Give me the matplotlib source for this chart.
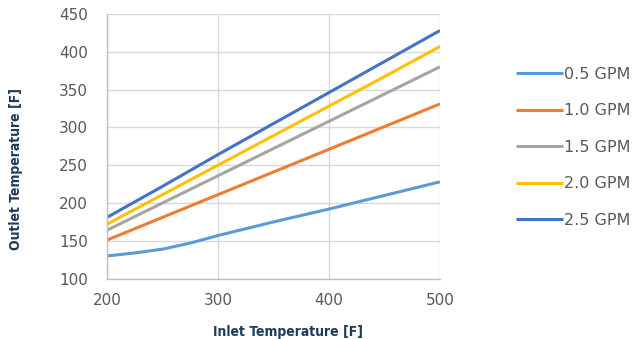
import matplotlib
matplotlib.use('Agg')
import matplotlib.pyplot as plt

# Outlet temperature vs inlet temperature for several flow rates
inlet = [200, 250, 300, 350, 400, 450, 500]
inlet_05 = [200, 225, 250, 275, 300, 350, 400, 450, 500]
outlet_05 = [130, 134, 139, 147, 157, 175, 192, 210, 228]
outlet_10 = [151, 181, 211, 241, 271, 301, 331]
outlet_15 = [164, 200, 236, 272, 308, 344, 380]
outlet_20 = [172, 211, 250, 289, 328, 367, 407]
outlet_25 = [181, 222, 264, 305, 346, 387, 428]
labels = ['0.5 GPM', '1.0 GPM', '1.5 GPM', '2.0 GPM', '2.5 GPM']
colors = ['#5B9BD5', '#ED7D31', '#A5A5A5', '#FFC000', '#4472C4']

fig = plt.figure(figsize=(6.33, 3.39), dpi=100)
ax = fig.add_axes([0.169, 0.178, 0.526, 0.781])

series = [(inlet_05, outlet_05), (inlet, outlet_10), (inlet, outlet_15),
          (inlet, outlet_20), (inlet, outlet_25)]
for (xs, ys), lab, c in zip(series, labels, colors):
    ax.plot(xs, ys, color=c, linewidth=2.2, label=lab, solid_capstyle='butt')

ax.set_xlim(200, 500)
ax.set_ylim(100, 450)
ax.set_xticks([200, 300, 400, 500])
ax.set_yticks(range(100, 451, 50))
ax.grid(True, color='#D9D9D9', linewidth=1)
ax.set_axisbelow(True)
for side in ['top', 'right']:
    ax.spines[side].set_visible(False)
for side in ['left', 'bottom']:
    ax.spines[side].set_color('#BFBFBF')
    ax.spines[side].set_linewidth(1)
ax.tick_params(length=0, labelsize=11, colors='#595959')
ax.tick_params(axis='y', pad=13.5)
ax.tick_params(axis='x', pad=10.5)

lab_font = dict(family='DejaVu Sans', stretch='condensed',
                weight='bold', size=10, color='#1F3B5A')
ax.set_xlabel('Inlet Temperature [F]', **lab_font)
ax.set_ylabel('Outlet Temperature [F]', **lab_font)
ax.xaxis.set_label_coords(0.545, -0.175)
ax.yaxis.set_label_coords(-0.252, 0.416)

leg = fig.legend(loc='upper left', bbox_to_anchor=(0.792, 0.845),
                 frameon=False, fontsize=11.5, handlelength=2.95,
                 handletextpad=0.1, labelspacing=1.34)
for t in leg.get_texts():
    t.set_color('#595959')

plt.savefig('out.png', dpi=100)
